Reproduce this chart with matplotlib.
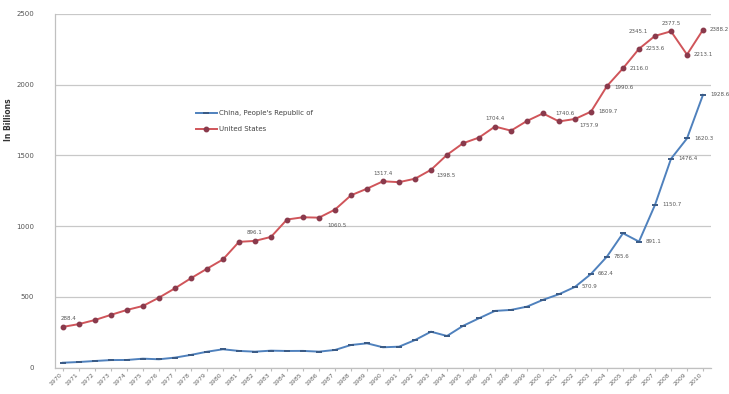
import matplotlib
matplotlib.use("Agg")
import matplotlib.pyplot as plt
import numpy as np

years = [str(y) for y in range(1970, 2011)]

china = [35.2, 40.1, 47.3, 53.8, 54.5, 63.7, 59.4, 71.2, 90.3, 112.8,
         130.1, 118.4, 113.2, 120.3, 118.1, 118.6, 113.4, 125.2, 160.3, 172.1,
         144.2, 148.4, 195.1, 254.3, 224.2, 295.4, 349.1, 401.3, 408.2, 431.5,
         479.6, 519.2, 570.9, 662.4, 785.6, 950.2, 891.1, 1150.7, 1476.4, 1620.3, 1928.6]

usa = [288.4, 308.2, 337.1, 373.4, 408.2, 436.3, 495.1, 561.2, 632.4, 699.3,
       765.2, 889.4, 896.1, 924.3, 1047.2, 1063.1, 1060.5, 1117.3, 1218.4, 1265.2,
       1317.4, 1311.2, 1335.6, 1398.5, 1504.3, 1586.2, 1626.4, 1704.4, 1675.3, 1744.1,
       1797.2, 1740.6, 1757.9, 1809.7, 1990.6, 2116.0, 2253.6, 2345.1, 2377.5, 2213.1, 2388.2]

series_names = ["China, People's Republic of", "United States"]

# indices of points that carry a value label, with (dx, dy, ha, va) offsets in points
usa_labels = {
    0: (4, 4, "center", "bottom"),
    12: (0, 4, "center", "bottom"),
    16: (6, -4, "left", "top"),
    20: (0, 4, "center", "bottom"),
    23: (4, -2, "left", "top"),
    27: (0, 4, "center", "bottom"),
    31: (4, 4, "center", "bottom"),
    32: (3, -3, "left", "top"),
    33: (5, 0, "left", "center"),
    34: (5, -1, "left", "center"),
    35: (5, 0, "left", "center"),
    36: (5, 0, "left", "center"),
    37: (-5, 3, "right", "center"),
    38: (0, 4, "center", "bottom"),
    39: (5, 0, "left", "center"),
    40: (5, 0, "left", "center"),
}
china_labels = {32: (5, 0), 33: (5, 0), 34: (5, 0), 36: (5, 0),
                37: (5, 0), 38: (5, 0), 39: (5, 0), 40: (5, 0)}

fig = plt.figure(figsize=(7.29, 3.94), dpi=100)
ax = fig.add_axes([0.0754, 0.0668, 0.9753 - 0.0754, 0.9645 - 0.0668])

x = np.arange(len(years))
blue = "#4f81bd"
red = "#d0555a"

ax.plot(x, china, color=blue, lw=1.4, marker="_", ms=4, mew=1.4,
        mec="#3a5a85", label=series_names[0], zorder=3)
ax.plot(x, usa, color=red, lw=1.4, marker="o", ms=3.2, mfc="#8a3a4c",
        mec="#8a3a4c", label=series_names[1], zorder=3)

lab_color = "#555555"
for i, (dx, dy, ha, va) in usa_labels.items():
    ax.annotate(f"{usa[i]:.1f}", (x[i], usa[i]), xytext=(dx, dy),
                textcoords="offset points", ha=ha, va=va, fontsize=4,
                color=lab_color)
for i, (dx, dy) in china_labels.items():
    ax.annotate(f"{china[i]:.1f}", (x[i], china[i]), xytext=(dx, dy),
                textcoords="offset points", ha="left", va="center", fontsize=4,
                color=lab_color)

ax.set_xlim(-0.5, len(years) - 0.5)
ax.set_ylim(0, 2500)
ax.set_yticks(np.arange(0, 2501, 500))
ax.set_xticks(x)
ax.set_xticklabels(years, rotation=45, ha="right", fontsize=4.5, color="#666666")
ax.tick_params(axis="y", labelsize=5, colors="#555555", length=0, pad=15)
ax.tick_params(axis="x", length=2, color="#bbbbbb", pad=1)

ax.grid(axis="y", color="#c8c8c8", lw=0.9)
ax.set_axisbelow(True)
for s in ["top", "right"]:
    ax.spines[s].set_visible(False)
for s in ["left", "bottom"]:
    ax.spines[s].set_color("#c0c0c0")
    ax.spines[s].set_linewidth(0.9)

ax.set_ylabel("In Billions", fontsize=5.5, color="#333333", fontweight="bold")
ax.yaxis.set_label_coords(-0.064, 0.7)

leg = ax.legend(loc="upper left", bbox_to_anchor=(0.205, 0.745), frameon=False,
                fontsize=5, handlelength=3.0, labelspacing=1.4,
                handletextpad=0.4)
for t in leg.get_texts():
    t.set_color("#444444")

fig.savefig("out.png", dpi=100)
